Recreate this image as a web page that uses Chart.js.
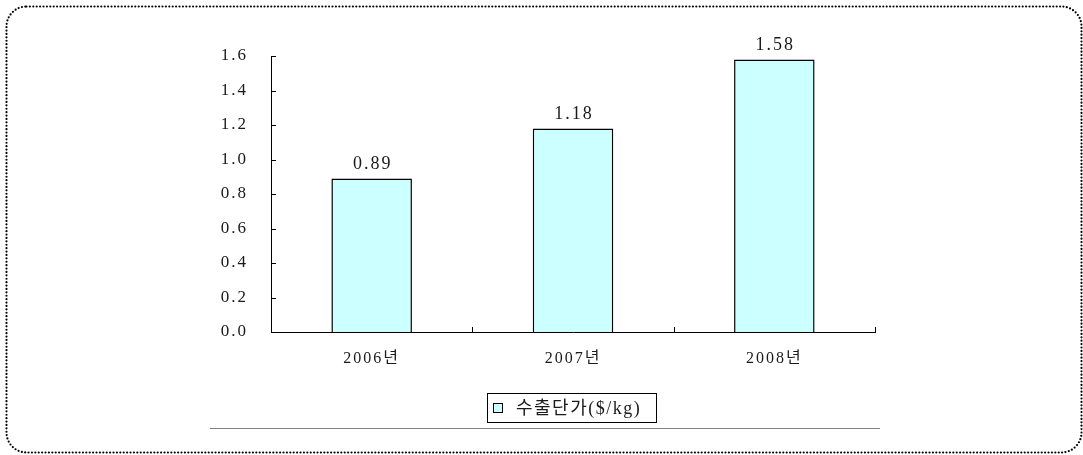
<!DOCTYPE html>
<html>
<head>
<meta charset="utf-8">
<script src="https://cdn.jsdelivr.net/npm/chart.js@4.4.1/dist/chart.umd.min.js"></script>
<style>
  html, body { margin: 0; padding: 0; background: #ffffff; }
  canvas { display: block; }
</style>
</head>
<body>
<canvas id="c" width="1083" height="455"></canvas>
<script>
// Export unit price by year
const categories = ['2006년', '2007년', '2008년'];
const unitPrice = [0.89, 1.18, 1.58];
const seriesLabel = '수출단가($/kg)';
const yTicks = [0.0, 0.2, 0.4, 0.6, 0.8, 1.0, 1.2, 1.4, 1.6];

const FONT = "'Liberation Serif', 'Times New Roman', 'Noto Sans CJK KR', serif";
const BAR_FILL = '#ccffff';
const TEXT = '#1a1a1a';

// Dotted rounded frame around the whole figure
const framePlugin = {
  id: 'frame',
  beforeDraw(chart) {
    const ctx = chart.ctx;
    ctx.save();
    ctx.fillStyle = '#ffffff';
    ctx.fillRect(0, 0, chart.width, chart.height);
    ctx.strokeStyle = '#000000';
    ctx.lineWidth = 2.2;
    ctx.lineCap = 'round';
    ctx.setLineDash([0, 3.4]);
    ctx.beginPath();
    ctx.roundRect(6.5, 6.5, 1075, 446, 20);
    ctx.stroke();
    ctx.restore();
  }
};

// Spacing for axis label text
const axisSpacingPlugin = {
  id: 'axisSpacing',
  beforeDraw(chart) { chart.ctx.letterSpacing = '2px'; },
  afterDraw(chart) { chart.ctx.letterSpacing = '0px'; }
};

// Inward tick marks on both axes
const innerTicksPlugin = {
  id: 'innerTicks',
  afterDraw(chart) {
    const ctx = chart.ctx;
    const x = chart.scales.x, y = chart.scales.y;
    const left = chart.chartArea.left, bottom = chart.chartArea.bottom;
    ctx.save();
    ctx.strokeStyle = '#000000';
    ctx.lineWidth = 1;
    ctx.beginPath();
    yTicks.forEach(v => {
      const py = Math.round(y.getPixelForValue(v)) + 0.5;
      ctx.moveTo(left, py);
      ctx.lineTo(left + 5, py);
    });
    const half = (x.getPixelForValue(1) - x.getPixelForValue(0)) / 2;
    categories.forEach((c, i) => {
      const px = Math.round(x.getPixelForValue(i) + half) + 0.5;
      ctx.moveTo(px, bottom);
      ctx.lineTo(px, bottom - 5);
    });
    ctx.stroke();
    ctx.restore();
  }
};

// Value labels above each bar
const valueLabelPlugin = {
  id: 'valueLabels',
  afterDatasetsDraw(chart) {
    const ctx = chart.ctx;
    const meta = chart.getDatasetMeta(0);
    ctx.save();
    ctx.letterSpacing = '2px';
    ctx.font = '18px ' + FONT;
    ctx.fillStyle = TEXT;
    ctx.textAlign = 'center';
    ctx.textBaseline = 'alphabetic';
    meta.data.forEach((bar, i) => {
      ctx.fillText(unitPrice[i].toFixed(2), bar.x + 1, bar.y - 9);
    });
    ctx.restore();
  }
};

// Boxed legend with a rule beneath it
const legendBoxPlugin = {
  id: 'legendBox',
  afterDraw(chart) {
    const ctx = chart.ctx;
    ctx.save();
    ctx.letterSpacing = '0px';
    ctx.strokeStyle = '#808080';
    ctx.lineWidth = 1;
    ctx.beginPath();
    ctx.moveTo(210, 428.5);
    ctx.lineTo(880, 428.5);
    ctx.stroke();

    ctx.strokeStyle = '#000000';
    ctx.strokeRect(487.5, 393.5, 169, 29);
    ctx.fillStyle = BAR_FILL;
    ctx.fillRect(493.5, 403.5, 9, 9);
    ctx.strokeRect(493.5, 403.5, 9, 9);

    ctx.letterSpacing = '1.5px';
    ctx.fillStyle = TEXT;
    ctx.font = '18px ' + FONT;
    ctx.textAlign = 'left';
    ctx.textBaseline = 'middle';
    ctx.fillText(seriesLabel, 516, 409);
    ctx.restore();
  }
};

new Chart(document.getElementById('c'), {
  type: 'bar',
  data: {
    labels: categories,
    datasets: [{
      label: seriesLabel,
      data: unitPrice,
      backgroundColor: BAR_FILL,
      borderColor: '#000000',
      borderWidth: 1.5,
      borderSkipped: 'start',
      categoryPercentage: 1.0,
      barPercentage: 0.4
    }]
  },
  options: {
    responsive: false,
    devicePixelRatio: 1,
    animation: false,
    layout: { padding: { left: 0, right: 208, top: 56, bottom: 0 } },
    plugins: {
      legend: { display: false },
      tooltip: { enabled: false }
    },
    scales: {
      x: {
        offset: true,
        grid: { display: false, drawTicks: false },
        border: { display: true, color: '#000000', width: 1 },
        ticks: {
          color: TEXT,
          font: { family: FONT, size: 16 },
          padding: 17,
          maxRotation: 0
        },
        afterFit(scale) { scale.height = 123; }
      },
      y: {
        min: 0,
        max: 1.6,
        grid: { display: false, drawTicks: false },
        border: { display: true, color: '#000000', width: 1 },
        ticks: {
          stepSize: 0.2,
          color: TEXT,
          font: { family: FONT, size: 17 },
          padding: 23,
          callback: v => Number(v).toFixed(1)
        },
        afterFit(scale) { scale.width = 271; }
      }
    }
  },
  plugins: [framePlugin, axisSpacingPlugin, innerTicksPlugin, valueLabelPlugin, legendBoxPlugin]
});
</script>
</body>
</html>
